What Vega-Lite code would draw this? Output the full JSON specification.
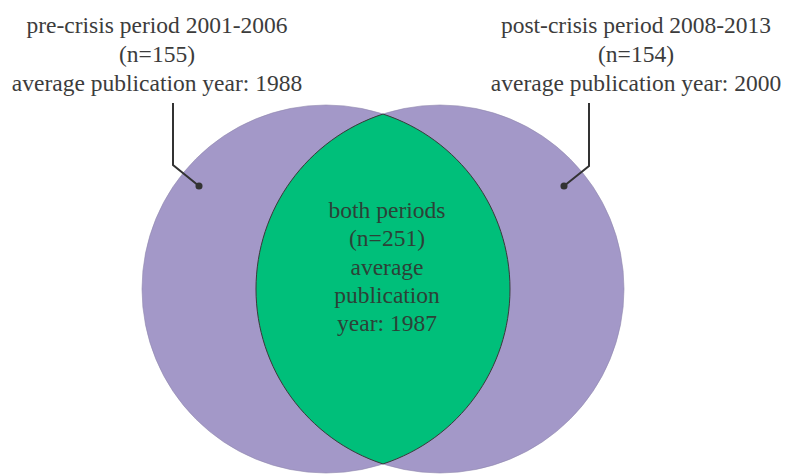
{
  "$schema": "https://vega.github.io/schema/vega-lite/v6.json",
  "width": 785,
  "height": 474,
  "padding": 0,
  "autosize": {"type": "none"},
  "background": "white",
  "config": {"view": {"stroke": null}},
  "datasets": {
    "circles": [
      {"set": "pre-crisis period 2001-2006", "cx": 326, "cy": 289},
      {"set": "post-crisis period 2008-2013", "cx": 440, "cy": 289}
    ],
    "overlap": [
      {"set": "both periods", "cx": 383, "cy": 289}
    ],
    "leaders": [
      {"set": "pre", "order": 1, "px": 173, "py": 103},
      {"set": "pre", "order": 2, "px": 173, "py": 165},
      {"set": "pre", "order": 3, "px": 199, "py": 186},
      {"set": "post", "order": 1, "px": 589, "py": 103},
      {"set": "post", "order": 2, "px": 589, "py": 166},
      {"set": "post", "order": 3, "px": 564, "py": 186}
    ],
    "dots": [
      {"set": "pre", "px": 199, "py": 186},
      {"set": "post", "px": 564, "py": 186}
    ],
    "labels": [
      {"group": "outer", "tx": 157, "ty": 33, "label": "pre-crisis period 2001-2006"},
      {"group": "outer", "tx": 157, "ty": 62, "label": "(n=155)"},
      {"group": "outer", "tx": 157, "ty": 91, "label": "average publication year: 1988"},
      {"group": "outer", "tx": 636, "ty": 33, "label": "post-crisis period 2008-2013"},
      {"group": "outer", "tx": 636, "ty": 62, "label": "(n=154)"},
      {"group": "outer", "tx": 636, "ty": 91, "label": "average publication year: 2000"},
      {"group": "inner", "tx": 387, "ty": 218, "label": "both periods"},
      {"group": "inner", "tx": 387, "ty": 246, "label": "(n=251)"},
      {"group": "inner", "tx": 387, "ty": 275, "label": "average"},
      {"group": "inner", "tx": 387, "ty": 303, "label": "publication"},
      {"group": "inner", "tx": 387, "ty": 331, "label": "year: 1987"}
    ]
  },
  "layer": [
    {
      "data": {"name": "circles"},
      "mark": {"type": "point", "shape": "circle", "filled": true, "size": 135424, "color": "#a398c8", "opacity": 1, "stroke": "#8f86ad", "strokeWidth": 0.6},
      "encoding": {
        "x": {"field": "cx", "type": "quantitative", "scale": {"domain": [0, 785], "nice": false, "zero": false}, "axis": null},
        "y": {"field": "cy", "type": "quantitative", "scale": {"domain": [0, 474], "nice": false, "zero": false, "reverse": true}, "axis": null}
      }
    },
    {
      "data": {"name": "overlap"},
      "mark": {"type": "point", "shape": "M0,-0.9508A1,1,0,0,1,0,0.9508A1,1,0,0,1,0,-0.9508Z", "filled": true, "size": 135424, "fill": "#00bf7a", "opacity": 1, "stroke": "#3a3a3a", "strokeWidth": 1},
      "encoding": {
        "x": {"field": "cx", "type": "quantitative"},
        "y": {"field": "cy", "type": "quantitative"}
      }
    },
    {
      "data": {"name": "leaders"},
      "mark": {"type": "line", "color": "#333333", "strokeWidth": 2},
      "encoding": {
        "x": {"field": "px", "type": "quantitative"},
        "y": {"field": "py", "type": "quantitative"},
        "detail": {"field": "set"},
        "order": {"field": "order"}
      }
    },
    {
      "data": {"name": "dots"},
      "mark": {"type": "point", "shape": "circle", "filled": true, "size": 50, "color": "#333333", "opacity": 1},
      "encoding": {
        "x": {"field": "px", "type": "quantitative"},
        "y": {"field": "py", "type": "quantitative"}
      }
    },
    {
      "data": {"name": "labels"},
      "mark": {"type": "text", "font": "Liberation Serif", "fontSize": 23.5, "align": "center", "baseline": "alphabetic"},
      "encoding": {
        "x": {"field": "tx", "type": "quantitative"},
        "y": {"field": "ty", "type": "quantitative"},
        "text": {"field": "label"},
        "color": {"field": "group", "type": "nominal", "scale": {"domain": ["outer", "inner"], "range": ["#3c3c3c", "#2c4237"]}, "legend": null}
      }
    }
  ]
}
